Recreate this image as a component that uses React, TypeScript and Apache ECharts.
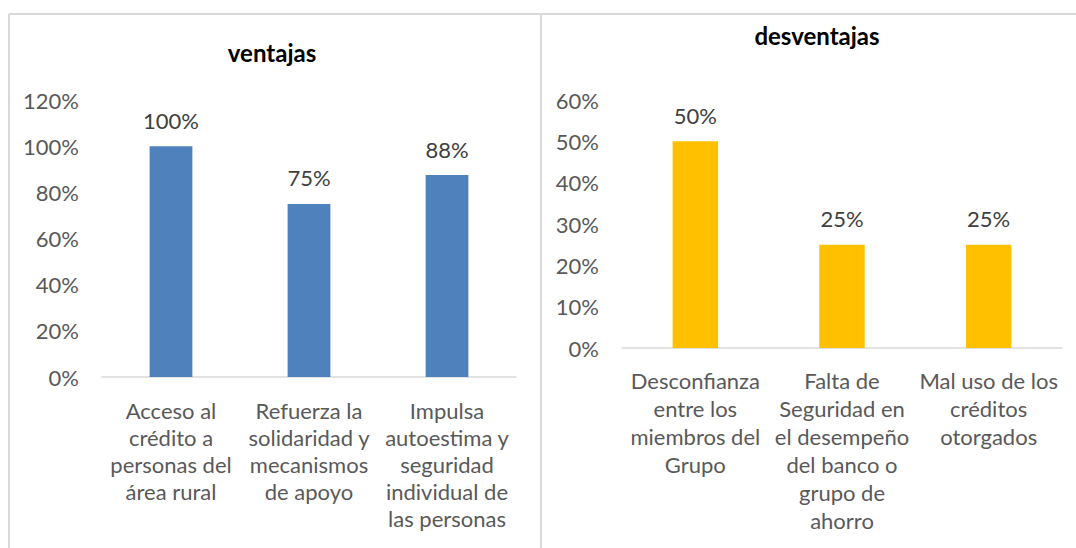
import React, { useEffect, useRef } from "react";
import * as echarts from "echarts";

const leftCategories = [
  "Acceso al\ncrédito a\npersonas del\nárea rural",
  "Refuerza la\nsolidaridad y\nmecanismos\nde apoyo",
  "Impulsa\nautoestima y\nseguridad\nindividual de\nlas personas",
];
const leftValues = [100, 75, 87.5];
const leftTitle = "ventajas";

const rightCategories = [
  "Desconfianza\nentre los\nmiembros del\nGrupo",
  "Falta de\nSeguridad en\nel desempeño\ndel banco o\ngrupo de\nahorro",
  "Mal uso de los\ncréditos\notorgados",
];
const rightValues = [50, 25, 25];
const rightTitle = "desventajas";

const FONT = "Lato, 'Open Sans', sans-serif";
const FS = 22;

export default function App() {
  const ref = useRef<HTMLDivElement>(null);
  useEffect(() => {
    if (!ref.current) return;
    const chart = echarts.init(ref.current, null, { renderer: "svg" });
    const axisLabel = (lh: number, margin: number) => ({
      interval: 0,
      color: "#595959",
      fontFamily: FONT,
      fontSize: FS,
      lineHeight: lh,
      margin,
    });
    const yLabel = {
      color: "#595959",
      fontFamily: FONT,
      fontSize: FS,
      margin: 23,
      formatter: "{value}%",
    };
    const dataLabel = {
      show: true,
      position: "top" as const,
      distance: 15,
      color: "#404040",
      fontFamily: FONT,
      fontSize: FS,
      formatter: (p: any) => Math.round(p.value) + "%",
    };
    const borderStyle = { stroke: "#D9D9D9", lineWidth: 2 };
    chart.setOption({
      animation: false,
      backgroundColor: "#ffffff",
      graphic: [
        { type: "line", shape: { x1: 9, y1: 14, x2: 1076, y2: 14 }, style: borderStyle },
        { type: "line", shape: { x1: 9, y1: 14, x2: 9, y2: 548 }, style: borderStyle },
        { type: "line", shape: { x1: 541, y1: 14, x2: 541, y2: 548 }, style: borderStyle },
        {
          type: "text",
          x: 272,
          y: 52,
          style: {
            text: leftTitle,
            fill: "#000",
            font: `bold 24px ${FONT}`,
            textAlign: "center",
            textVerticalAlign: "middle",
          },
        },
        {
          type: "text",
          x: 817,
          y: 35,
          style: {
            text: rightTitle,
            fill: "#000",
            font: `bold 24px ${FONT}`,
            textAlign: "center",
            textVerticalAlign: "middle",
          },
        },
      ],
      grid: [
        { left: 102, top: 100, width: 414, height: 277, containLabel: false },
        { left: 622, top: 100, width: 440, height: 248, containLabel: false },
      ],
      xAxis: [
        {
          type: "category",
          gridIndex: 0,
          data: leftCategories,
          axisLine: { lineStyle: { color: "#D9D9D9", width: 1.5 } },
          axisTick: { show: false },
          axisLabel: axisLabel(27, 20),
        },
        {
          type: "category",
          gridIndex: 1,
          data: rightCategories,
          axisLine: { lineStyle: { color: "#D9D9D9", width: 1.5 } },
          axisTick: { show: false },
          axisLabel: axisLabel(28, 18),
        },
      ],
      yAxis: [
        {
          type: "value",
          gridIndex: 0,
          min: 0,
          max: 120,
          interval: 20,
          splitLine: { show: false },
          axisLine: { show: false },
          axisTick: { show: false },
          axisLabel: yLabel,
        },
        {
          type: "value",
          gridIndex: 1,
          min: 0,
          max: 60,
          interval: 10,
          splitLine: { show: false },
          axisLine: { show: false },
          axisTick: { show: false },
          axisLabel: yLabel,
        },
      ],
      series: [
        {
          type: "bar",
          xAxisIndex: 0,
          yAxisIndex: 0,
          data: leftValues,
          barWidth: "31%",
          itemStyle: { color: "#4F81BD" },
          label: dataLabel,
        },
        {
          type: "bar",
          xAxisIndex: 1,
          yAxisIndex: 1,
          data: rightValues,
          barWidth: "31%",
          itemStyle: { color: "#FFC000" },
          label: dataLabel,
        },
      ],
    });
    return () => chart.dispose();
  }, []);
  return (
    <div
      ref={ref}
      style={{ position: "absolute", left: 0, top: 0, width: 1076, height: 548 }}
    />
  );
}
